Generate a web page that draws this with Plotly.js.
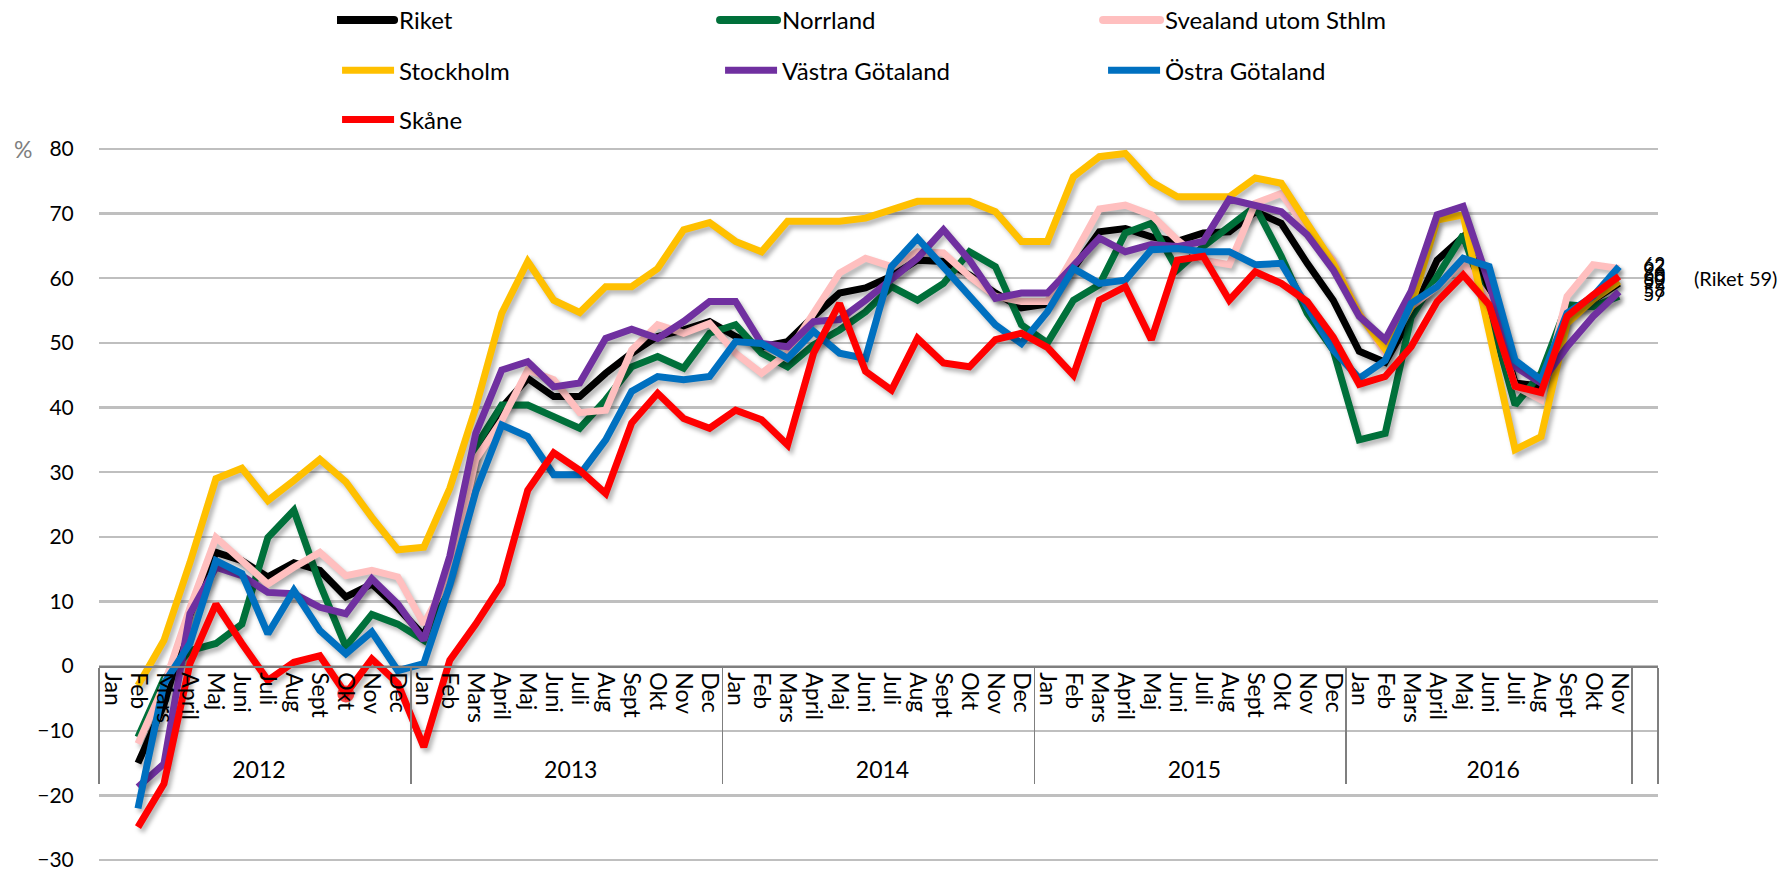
<!DOCTYPE html>
<html>
<head>
<meta charset="utf-8">
<script src="https://cdn.plot.ly/plotly-3.0.1.min.js"></script>
<style>
  html, body { margin: 0; padding: 0; background: #ffffff; }
  #chart { width: 1789px; height: 869px; }
  .scatterlayer .js-line { filter: drop-shadow(3px 4px 2px rgba(0,0,0,0.28)); }
  .legend .legendlines path { stroke-width: 8px !important; stroke-linecap: round; }
</style>
</head>
<body>
<div id="chart"></div>
<script>
// ---- Data (Feb 2012 .. Nov 2016) ----
const monthNames = ['Jan','Feb','Mars','April','Maj','Juni','Juli','Aug','Sept','Okt','Nov','Dec'];
const years = ['2012','2013','2014','2015','2016'];
const monthsIn2016 = 11;

const riket = [
  -15, -6, 8, 17.6, 16.3, 13.8, 16, 14.8, 10.7, 12.7, 9,
  4.7, 15, 33, 40, 44.5, 41.7, 41.7, 45.3, 48.4, 51, 52, 53.3,
  51, 49.4, 50.2, 54.1, 57.7, 58.5, 60.3, 62.8, 62.6, 60.5, 57.7, 55.4,
  56, 61.5, 67.2, 67.7, 66.4, 65.7, 67, 67.2, 70.3, 68.5, 62.3, 56.6,
  48.7, 47, 54.1, 62.8, 66.4, 57.7, 43.8, 43.3, 54.1, 56.6, 59.2
];
const norrland = [
  -11, -2, 2.4, 3.5, 6.5, 19.9, 24.1, 12.7, 3, 8, 6.5,
  4, 15, 34, 40.4, 40.4, 38.6, 36.8, 41.2, 46.3, 47.9, 46.1, 51.5,
  52.8, 48.4, 46.3, 49.7, 52, 54.8, 58.7, 56.6, 59.2, 64.1, 61.8, 52.8,
  50, 56.6, 59, 67, 68.5, 61.3, 64.9, 68, 71.1, 63.4, 54.6, 48.9,
  35, 36, 54, 60.3, 66.7, 55, 40.4, 45.3, 55.9, 55.6, 57.2
];
const svealand = [
  -12, -3, 9, 19.9, 16.3, 12.7, 15.3, 17.6, 14, 14.8, 13.8,
  6.5, 14, 32, 38, 45.8, 44.3, 39.2, 39.6, 48.9, 52.8, 51.5, 53,
  48.4, 45.3, 48.4, 54.6, 60.8, 63.1, 61.8, 64.1, 63.9, 60.3, 57.2, 56.4,
  56.4, 63.4, 70.7, 71.3, 69.8, 65.9, 62.8, 62.1, 71.6, 73.1, 67.5, 62.8,
  54.6, 48.4, 55.6, 58.7, 62.3, 56.6, 43.3, 41.2, 57.2, 62.1, 61.5
];
const stockholm = [
  -3, 4, 16, 29, 30.6, 25.6, 28.7, 32, 28.5, 23, 18,
  18.4, 27.5, 40, 54.6, 62.6, 56.6, 54.7, 58.7, 58.7, 61.5, 67.5, 68.6,
  65.7, 64.1, 68.8, 68.8, 68.8, 69.3, 70.5, 71.9, 71.9, 71.9, 70.3, 65.7,
  65.7, 75.7, 78.8, 79.3, 74.9, 72.6, 72.6, 72.6, 75.5, 74.7, 68.5, 62.3,
  54.4, 49, 55.6, 69, 69.8, 51.5, 33.5, 35.5, 53, 56.7, 59.5
];
const vastraGotaland = [
  -18.7, -15.1, 8.1, 15.3, 14, 11.4, 11.2, 9.1, 8.1, 13.5, 9.6,
  4, 17, 36, 45.8, 47.1, 43.2, 43.8, 50.7, 52.1, 50.7, 53.3, 56.4,
  56.4, 49.9, 49.4, 53.3, 53.6, 56.6, 59.7, 63.1, 67.5, 62.8, 56.9, 57.7,
  57.7, 61.8, 66.2, 64.1, 65.2, 64.9, 65.7, 72.2, 71.3, 70.3, 66.7, 61.3,
  54.1, 50.5, 58, 69.8, 71.1, 59.2, 46.3, 43.8, 49.4, 54.1, 57.9
];
const ostraGotaland = [
  -22, -2.7, 3.5, 16.3, 14.3, 5, 11.7, 5.5, 1.9, 5.3, -0.7,
  0.4, 12.5, 27, 37.3, 35.5, 29.6, 29.6, 35, 42.5, 44.8, 44.3, 44.8,
  50.2, 49.9, 47.6, 51.8, 48.4, 47.6, 61.8, 66.2, 61.8, 57.4, 52.8, 49.9,
  54.8, 61.5, 59.2, 59.7, 64.4, 64.6, 64.1, 64.1, 62.1, 62.3, 55.6, 48.9,
  44.5, 47.3, 56.1, 58.7, 63.1, 61.8, 47.3, 44.3, 54.6, 57.2, 61.8
];
const skane = [
  -24.9, -18.2, 0.4, 9.6, 3.5, -2.2, 0.6, 1.6, -4.3, 1.1, -2.7,
  -12.5, 0.9, 6.5, 12.7, 27.2, 33, 30.3, 26.7, 37.6, 42.2, 38.3, 36.8,
  39.6, 38.1, 34.2, 48.4, 56.1, 45.6, 42.7, 50.7, 46.9, 46.3, 50.5, 51.5,
  49.3, 45, 56.6, 58.7, 50.5, 62.8, 63.4, 56.6, 61, 59.2, 56.4, 50.9,
  43.6, 44.8, 49.4, 56.4, 60.5, 55.9, 43.3, 42.3, 54.1, 57.4, 60.3
];
const rikeNote = '(Riket 59)';

// ---- Build categories: Jan 2012 .. Nov 2016, plus one blank slot ----
const LABEL_PAD = '\u00a0\u00a0'; // trailing space under the rotated month labels
const catYear = [], catMonth = [];
years.forEach((y, yi) => {
  const n = (yi === years.length - 1) ? monthsIn2016 : 12;
  for (let m = 0; m < n; m++) { catYear.push(y); catMonth.push(monthNames[m] + LABEL_PAD); }
});
catYear.push(' '); catMonth.push(' ');

function pad(vals) { return [null].concat(vals, [null]); }
function endText(vals) {
  const full = pad(vals);
  return full.map((v, i) => (i === full.length - 2) ? '\u00a0\u00a0\u00a0\u00a0\u00a0' + Math.round(v) : '');
}

const seriesDefs = [
  {name: 'Riket', vals: riket, color: '#000000', legend: 'legend'},
  {name: 'Norrland', vals: norrland, color: '#00703a', legend: 'legend'},
  {name: 'Svealand utom Sthlm', vals: svealand, color: '#ffbfbf', legend: 'legend'},
  {name: 'Stockholm', vals: stockholm, color: '#ffc000', legend: 'legend2'},
  {name: 'Västra Götaland', vals: vastraGotaland, color: '#7030a0', legend: 'legend2'},
  {name: 'Östra Götaland', vals: ostraGotaland, color: '#0070c0', legend: 'legend2'},
  {name: 'Skåne', vals: skane, color: '#ff0000', legend: 'legend3'}
];

const traces = seriesDefs.map(s => {
  const y = pad(s.vals);
  const sizes = y.map(() => 0);
  if (s.name === 'Skåne') sizes[9] = 17; // highlighted point (Okt 2012)
  return {
    type: 'scatter',
    mode: 'lines+markers+text',
    name: s.name,
    legend: s.legend,
    x: [catYear, catMonth],
    y: y,
    text: endText(s.vals),
    textposition: 'middle right',
    textfont: {family: 'Lato, sans-serif', size: 19, color: '#000000'},
    cliponaxis: false,
    line: {color: s.color, width: 7, shape: 'linear'},
    marker: {size: sizes, color: s.color, line: {width: 0}},
    connectgaps: false,
    hoverinfo: 'x+y+name'
  };
});

const FONT = 'Lato, "Open Sans", sans-serif';
const T = 147, B = 7, H = 869;
const plotH = H - T - B;
const yRange = [-30.3, 80.3];
function paperY(px) { return (H - B - px) / plotH; }

const legendBase = {
  orientation: 'h', xanchor: 'left', yanchor: 'middle',
  x: 0.1527, entrywidth: 316, entrywidthmode: 'pixels', itemwidth: 52,
  font: {family: FONT, size: 24, color: '#000000'},
  bgcolor: 'rgba(0,0,0,0)', borderwidth: 0, traceorder: 'normal'
};

const layout = {
  width: 1789, height: 869,
  margin: {l: 99, r: 131, t: T, b: B, autoexpand: false},
  paper_bgcolor: '#ffffff', plot_bgcolor: '#ffffff',
  font: {family: FONT, size: 19, color: '#000000'},
  showlegend: true,
  legend: Object.assign({}, legendBase, {y: paperY(20.5)}),
  legend2: Object.assign({}, legendBase, {y: paperY(70.7)}),
  legend3: Object.assign({}, legendBase, {y: paperY(119.8)}),
  xaxis: {
    type: 'multicategory',
    anchor: 'free', position: (0 - yRange[0]) / (yRange[1] - yRange[0]),
    showgrid: false, zeroline: false,
    showline: true, linecolor: '#7f7f7f', linewidth: 1.5,
    tickmode: 'linear', tick0: 0, dtick: 1,
    tickangle: 90,
    ticks: '',
    tickfont: {family: FONT, size: 23, color: '#000000'},
    showdividers: true, dividercolor: '#7f7f7f', dividerwidth: 1.5,
    range: [-0.5, catMonth.length - 0.5],
    automargin: false
  },
  yaxis: {
    range: yRange, dtick: 10, tick0: 0,
    showgrid: true, gridcolor: '#bfbfbf', gridwidth: 2.5,
    zeroline: false, showline: false,
    ticks: 'outside', ticklen: 20, tickcolor: 'rgba(0,0,0,0)',
    ticklabeloverflow: 'allow',
    tickfont: {family: FONT, size: 21, color: '#000000'},
    automargin: false
  },
  annotations: [
    {xref: 'paper', yref: 'y', x: (1692 - 99) / 1559, y: 60, xanchor: 'left', yanchor: 'middle',
     text: rikeNote, showarrow: false, font: {family: FONT, size: 20, color: '#000000'}},
    {xref: 'paper', yref: 'y', x: (12 - 99) / 1559, y: 80, xanchor: 'left', yanchor: 'middle',
     text: '%', showarrow: false, font: {family: FONT, size: 23, color: '#7f7f7f'}}
  ]
};

Plotly.newPlot('chart', traces, layout, {displayModeBar: false, staticPlot: true}).then(gd => {
  gd.querySelectorAll('.legend .legendlines path').forEach(p => p.setAttribute('d', 'M0,0h57'));
});
</script>
</body>
</html>
